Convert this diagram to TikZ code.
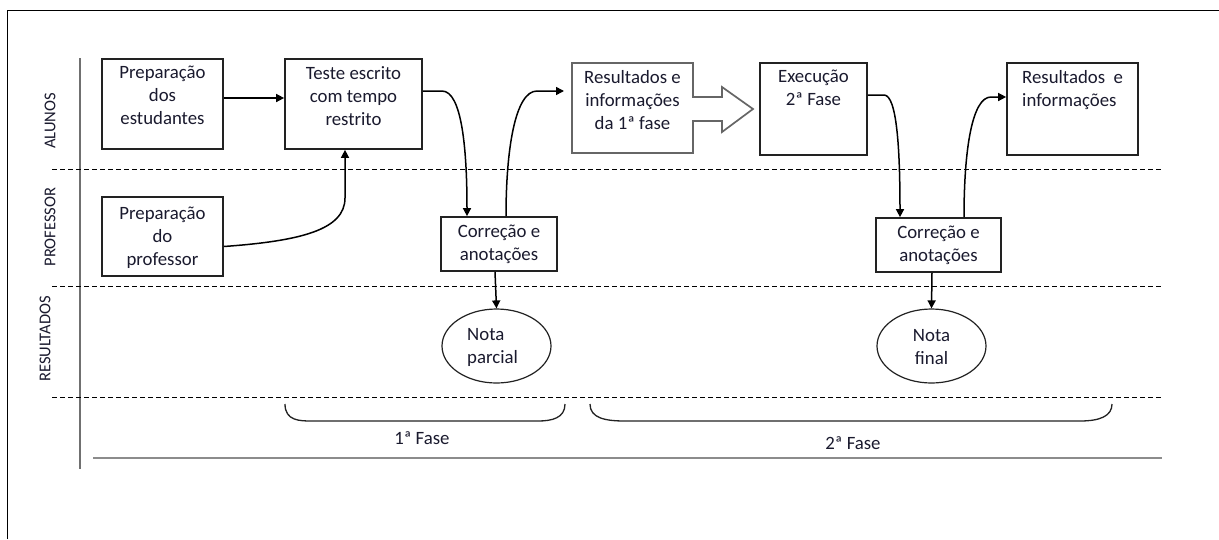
\documentclass[tikz,border=0pt]{standalone}
\usepackage{fontspec}
\setmainfont{Carlito}
\usetikzlibrary{arrows.meta,shapes.geometric,calc}
\definecolor{txt}{HTML}{1A1A2E}
\definecolor{edge}{HTML}{222222}
\definecolor{axisgray}{HTML}{8C8C8C}
\begin{document}
\begin{tikzpicture}[x=1pt,y=-1pt,
  boxnode/.style={draw=edge,line width=1.7pt,rectangle,inner sep=0pt},
  boxtext/.style={text=txt,align=center,font=\fontsize{18.8}{23}\selectfont,inner sep=0pt},
  elnode/.style={draw=edge,line width=1.2pt,ellipse,inner sep=0pt},
  conn/.style={draw=black,line width=1.5pt,-{Triangle[length=8pt,width=8pt]}},
  lane/.style={draw=black,line width=1pt,dash pattern=on 5pt off 3pt},
  lanelabel/.style={text=txt,font=\fontsize{16.5}{18}\selectfont,rotate=90,inner sep=0pt},
  bracepath/.style={draw=edge,line width=1.3pt}]
\useasboundingbox (0,0) rectangle (1219,539);
\fill[white] (0,0) rectangle (1219,539);
% frame
\draw[black,line width=1pt] (7,539) -- (7,10) -- (1219,10);
% axis lines
\draw[axisgray!80!black,line width=1.8pt] (80,58) -- (80,469);
\draw[axisgray,line width=2.2pt] (93,458) -- (1162,458);
% lanes
\draw[lane] (52,169) -- (1163,169);
\draw[lane] (52,286) -- (1163,286);
\draw[lane] (52,397) -- (1163,397);
% lane labels
\node[lanelabel] (lA) at (50,121) {ALUNOS};
\node[lanelabel] (lP) at (50,227) {PROFESSOR};
\node[lanelabel] (lR) at (45,339) {RESULTADOS};
% boxes
\node[boxnode,minimum width=121pt,minimum height=90pt] (prepE) at (162.5,104) {};
\node[boxtext,anchor=north] (prepEt) at (162.5,66) {Preparação\\dos\\estudantes};
\node[boxnode,minimum width=137pt,minimum height=90pt] (teste) at (353.5,104) {};
\node[boxtext,anchor=north] (testet) at (353.5,66) {Teste escrito\\com tempo\\restrito};
\node[boxnode,minimum width=121pt,minimum height=79pt] (prepP) at (162.5,236.5) {};
\node[boxtext] (prepPt) at (162.5,238) {Preparação\\do\\professor};
\node[boxnode,minimum width=116pt,minimum height=54pt] (corr1) at (499,244) {};
\node[boxtext] (corr1t) at (499,244.5) {Correção e\\anotações};
% results 1 with block arrow
\draw[draw=black!60,line width=1.7pt,fill=white]
  (572,63) -- (693,63) -- (693,97) -- (722,97) -- (722,87) -- (753,109)
  -- (722,132) -- (722,121) -- (693,121) -- (693,153) -- (572,153) -- cycle;
\node[inner sep=0pt,minimum width=121pt,minimum height=90pt] (res1) at (632.5,108) {};
\node[boxtext,anchor=north] (res1t) at (632.5,70) {Resultados e\\informações\\da 1ª fase};
\node[boxnode,minimum width=107pt,minimum height=92pt] (exec) at (813.5,109) {};
\node[boxtext,anchor=north] (exect) at (813.5,70) {Execução\\2ª Fase};
\node[boxnode,minimum width=131pt,minimum height=92pt] (res2) at (1072.5,109) {};
\node[boxtext,anchor=north west,align=left] (res2t) at (1022,70) {Resultados~ e\\informações};
\node[boxnode,minimum width=125pt,minimum height=54pt] (corr2) at (938.5,245) {};
\node[boxtext] (corr2t) at (938.5,245.5) {Correção e\\anotações};
% ellipses
\node[elnode,minimum width=109pt,minimum height=74pt] (notaP) at (496.5,346) {};
\node[boxtext,align=left,anchor=west] (notaPt) at (467,347) {Nota\\parcial};
\node[elnode,minimum width=109pt,minimum height=74pt] (notaF) at (931.5,346) {};
\node[boxtext] (notaFt) at (931.5,347) {Nota\\final};
% connectors
\draw[conn] (prepE.east |- 0,98) -- (teste.west |- 0,98);
\draw[conn] ([yshift=-10pt]prepP.east) .. controls (300,241) and (345,230) .. (345,198) -- (teste.south -| 345,0);
\coordinate (c1a) at (442,91);
\draw[conn] ([yshift=13pt]teste.east) -- (c1a) .. controls (462,91) and (467,150) .. ([xshift=-32pt]corr1.north);
\coordinate (c1b) at (537,91);
\coordinate (c1end) at (564,91);
\draw[conn] ([xshift=7pt]corr1.north) .. controls (506,150) and (515,91) .. (c1b) -- (c1end);
\coordinate (c2a) at (884,95);
\draw[conn] ([yshift=14pt]exec.east) -- (c2a) .. controls (897,95) and (900,150) .. ([xshift=-38.5pt]corr2.north);
\coordinate (c2b) at (991,97);
\draw[conn] ([xshift=25.5pt]corr2.north) .. controls (964,150) and (972,97) .. (c2b) -- ([yshift=12pt]res2.west);
\draw[conn] ([xshift=-4pt]corr1.south) -- (notaP.north);
\draw[conn] ([xshift=-6.5pt]corr2.south) -- (notaF.north);
% braces
\draw[bracepath] (285,404) .. controls (285,421) and (300,421) .. (312,421) -- (538,421) .. controls (552,421) and (565,418) .. (565,404);
\draw[bracepath] (590,404) .. controls (590,418) and (605,421) .. (625,421) -- (1080,421) .. controls (1100,421) and (1112,416) .. (1112,404);
\node[boxtext] (f1) at (422,438) {1ª Fase};
\node[boxtext] (f2) at (853,443) {2ª Fase};
\end{tikzpicture}
\end{document}
